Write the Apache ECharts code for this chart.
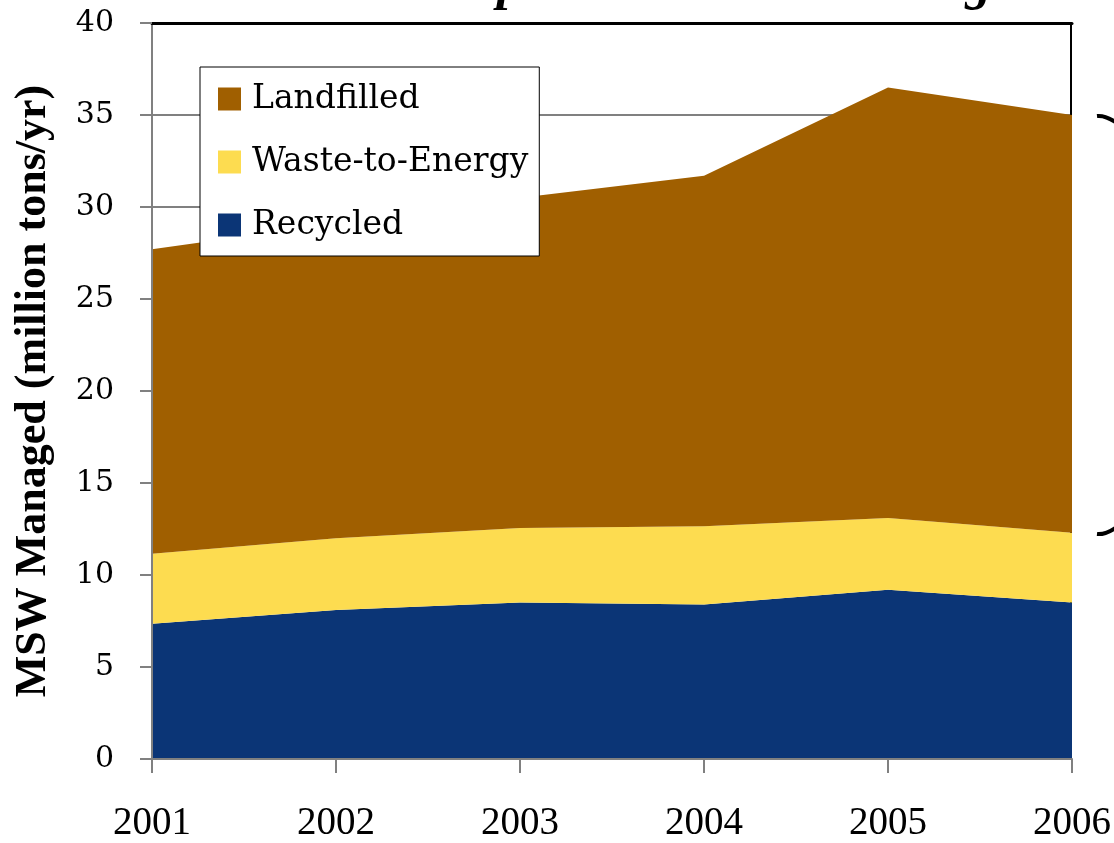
<!DOCTYPE html>
<html><head><meta charset="utf-8">
<script src="https://cdn.jsdelivr.net/npm/echarts@6/dist/echarts.min.js"></script>
<style>html,body{margin:0;padding:0;background:#fff;overflow:hidden}#c{width:1114px;height:843px}</style>
</head><body><div id="c"></div>
<script>
const years = ['2001','2002','2003','2004','2005','2006'];
const recycled = [7.35, 8.1, 8.5, 8.4, 9.2, 8.5];
const wasteToEnergy = [3.8, 3.9, 4.05, 4.25, 3.9, 3.8];
const landfilled = [16.55, 17.1, 17.95, 19.05, 23.4, 22.7];
const yTicks = [0, 5, 10, 15, 20, 25, 30, 35, 40];
const titleText = 'Municipal Solid Waste Management';
const yName = 'MSW Managed (million tons/yr)';

const brown = '#A05F00', yellow = '#FDDC50', blue = '#0B3576', gray = '#808080';
const chart = echarts.init(document.getElementById('c'));
const gridL = 152, gridR = 39, gridT = 23, gridB = 78;
function area(name, data, color) {
  return { name, type: 'line', stack: 'total', data, showSymbol: false, symbol: 'none',
    lineStyle: { width: 0 }, areaStyle: { color, opacity: 1 }, itemStyle: { color }, z: 2 };
}
chart.setOption({
  animation: false,
  backgroundColor: '#fff',
  title: { text: titleText, left: 336, top: -45,
    textStyle: { fontFamily: 'Liberation Serif', fontStyle: 'italic', fontWeight: 'bold', fontSize: 52, color: '#000' } },
  grid: { left: gridL, right: gridR, top: gridT, bottom: gridB },
  legend: {
    data: ['Landfilled', 'Waste-to-Energy', 'Recycled'],
    orient: 'vertical', left: 200, top: 67,
    backgroundColor: '#fff', borderColor: '#000', borderWidth: 1, borderRadius: 0,
    padding: [12, 11, 11, 18], itemGap: 23, itemWidth: 23, itemHeight: 23, icon: 'rect',
    textStyle: { fontFamily: 'DejaVu Serif', fontSize: 33, color: '#000', lineHeight: 40, padding: [0, 0, 0, 6] },
    z: 10
  },
  xAxis: [{
    type: 'category', data: years, boundaryGap: false, z: 5,
    axisLine: { onZero: false, lineStyle: { color: gray, width: 2 } },
    axisTick: { alignWithLabel: true, length: 14, lineStyle: { color: gray, width: 2 } },
    axisLabel: { fontFamily: 'Liberation Serif', fontSize: 39, color: '#000', margin: 45, showMaxLabel: true, showMinLabel: true },
    splitLine: { show: false }
  }, {
    type: 'category', data: years, boundaryGap: false, position: 'top', z: 5,
    axisLine: { onZero: false, lineStyle: { color: '#000', width: 3 } },
    axisTick: { show: false }, axisLabel: { show: false }, splitLine: { show: false }
  }],
  yAxis: [{
    type: 'value', min: yTicks[0], max: yTicks[yTicks.length - 1], interval: 5, z: 5,
    name: yName, nameLocation: 'middle', nameGap: 96, nameRotate: 90,
    nameTextStyle: { fontFamily: 'Liberation Serif', fontWeight: 'bold', fontSize: 44, color: '#000' },
    axisLine: { show: true, onZero: false, lineStyle: { color: gray, width: 2 } },
    axisTick: { show: true, length: 12, lineStyle: { color: gray, width: 2 } },
    axisLabel: { fontFamily: 'DejaVu Serif', fontSize: 30, color: '#000', margin: 38 },
    splitLine: { show: false }
  }, {
    type: 'value', min: yTicks[0], max: yTicks[yTicks.length - 1], interval: 5, position: 'right', offset: -1, z: 0,
    axisLine: { show: true, onZero: false, lineStyle: { color: '#000', width: 2 } },
    axisTick: { show: false }, axisLabel: { show: false },
    splitLine: { show: true, lineStyle: { color: gray, width: 2 } }
  }],
  series: [
    area('Recycled', recycled, blue),
    area('Waste-to-Energy', wasteToEnergy, yellow),
    area('Landfilled', landfilled, brown)
  ],
  graphic: [
    { type: 'bezierCurve', shape: { x1: 1097, y1: 116, cpx1: 1106, cpy1: 115, x2: 1118, y2: 124 },
      style: { stroke: '#000', lineWidth: 4, fill: null }, z: 10 },
    { type: 'bezierCurve', shape: { x1: 1097, y1: 534, cpx1: 1106, cpy1: 535, x2: 1118, y2: 526 },
      style: { stroke: '#000', lineWidth: 4, fill: null }, z: 10 }
  ]
});
</script></body></html>
